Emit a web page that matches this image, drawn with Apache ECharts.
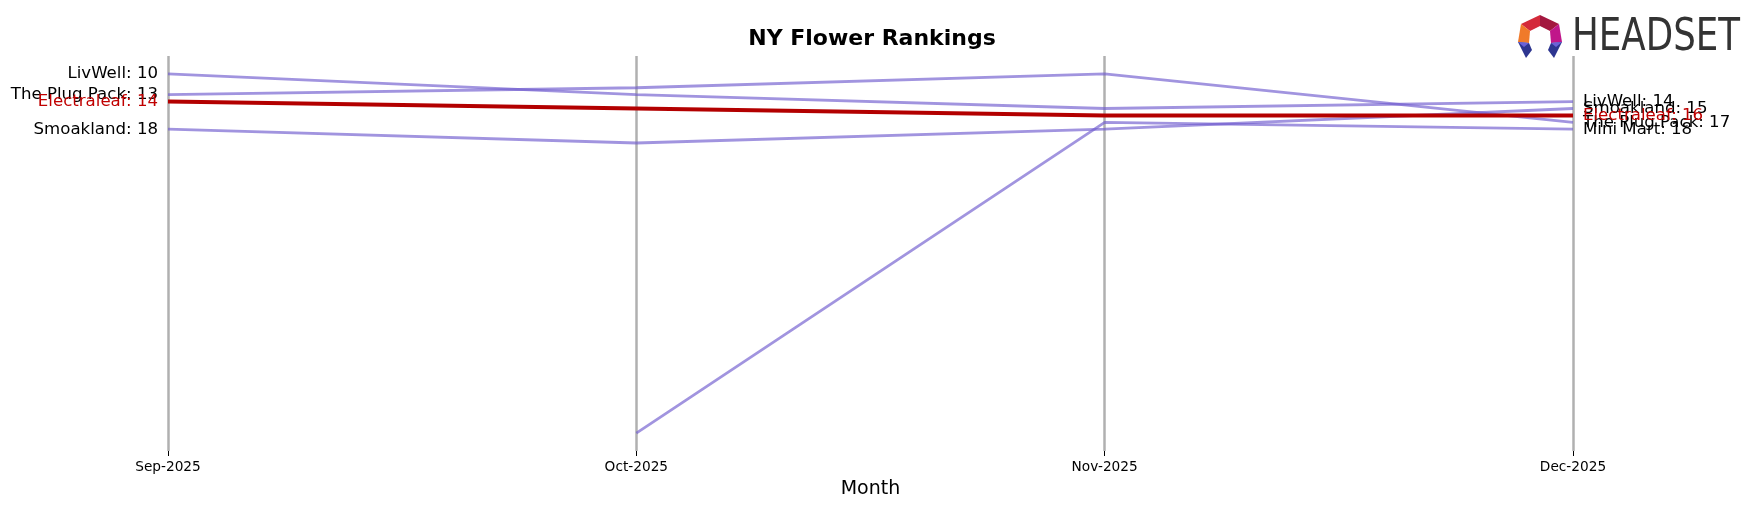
<!DOCTYPE html>
<html>
<head>
<meta charset="utf-8">
<script src="https://cdn.jsdelivr.net/npm/echarts@6/dist/echarts.min.js"></script>
<style>html,body{margin:0;padding:0;background:#fff;}#chart{width:1756px;height:507px;}</style>
</head>
<body>
<div id="chart"></div>
<script>
const months = ['Sep-2025', 'Oct-2025', 'Nov-2025', 'Dec-2025'];
const livwell = [10, 13, 15, 14];
const plugPack = [13, 12, 10, 17];
const electraleaf = [14, 15, 16, 16];
const smoakland = [18, 20, 18, 15];
const miniMart = [null, 62, 17, 18];

const FONT = 'DejaVu Sans';
const PURPLE = 'rgba(112,92,206,0.66)';
const RED = '#b30000';
const LABEL_SIZE = 16.6;

function makeSeries(name, values, color, width, z) {
  let first = values.findIndex(v => v != null);
  let last = values.length - 1;
  while (last >= 0 && values[last] == null) last--;
  const labelColor = color === RED ? '#c00000' : '#000';
  const data = values.map((v, i) => {
    if (v == null) return null;
    const item = { value: v };
    if (i === 0 && first === 0) {
      item.label = { show: true, position: 'left', distance: 10, offset: [0, 1], formatter: name + ': ' + v,
        fontFamily: FONT, fontSize: LABEL_SIZE, color: labelColor };
    } else if (i === last && i === values.length - 1) {
      item.label = { show: true, position: 'right', distance: 10, offset: [0, 1], formatter: name + ': ' + v,
        fontFamily: FONT, fontSize: LABEL_SIZE, color: labelColor };
    }
    return item;
  });
  return {
    name: name,
    type: 'line',
    data: data,
    z: z,
    symbol: 'circle',
    symbolSize: 0.01,
    showSymbol: true,
    connectNulls: false,
    lineStyle: { color: color, width: width },
    itemStyle: { color: 'rgba(0,0,0,0)' },
    label: { show: false, fontFamily: FONT, fontSize: LABEL_SIZE, color: labelColor },
    labelLayout: { hideOverlap: false },
    emphasis: { disabled: true },
    animation: false
  };
}

const chart = echarts.init(document.getElementById('chart'));
chart.setOption({
  backgroundColor: '#fff',
  animation: false,
  title: {
    text: 'NY Flower Rankings',
    left: 867,
    top: 23,
    textAlign: 'center',
    textStyle: { fontFamily: FONT, fontSize: 22, fontWeight: 'bold', color: '#000' }
  },
  grid: { left: 168, right: 183, top: 56, height: 395 },
  xAxis: {
    type: 'category',
    data: months,
    boundaryGap: false,
    name: 'Month',
    nameLocation: 'middle',
    nameGap: 29,
    nameTextStyle: { fontFamily: FONT, fontSize: 19, color: '#000' },
    axisLine: { show: false },
    axisTick: { show: true, length: 5, lineStyle: { color: '#000', width: 1 } },
    axisLabel: { fontFamily: FONT, fontSize: 13.7, color: '#000', margin: 9 },
    splitLine: { show: true, lineStyle: { color: '#b0b0b0', width: 2.5 } }
  },
  yAxis: {
    type: 'value',
    inverse: true,
    min: 7.4,
    max: 64.6,
    show: false,
    splitLine: { show: false }
  },
  series: [
    makeSeries('LivWell', livwell, PURPLE, 2.8, 2),
    makeSeries('The Plug Pack', plugPack, PURPLE, 2.8, 2),
    makeSeries('Smoakland', smoakland, PURPLE, 2.8, 2),
    makeSeries('Mini Mart', miniMart, PURPLE, 2.8, 2),
    makeSeries('Electraleaf', electraleaf, RED, 4, 5)
  ],
  graphic: [
    { type: 'polygon', shape: { points: [[1521,24],[1540,15],[1540,26],[1530,31]] }, style: { fill: '#d42a3a' } },
    { type: 'polygon', shape: { points: [[1540,15],[1559,24],[1550,31],[1540,26]] }, style: { fill: '#a3173f' } },
    { type: 'polygon', shape: { points: [[1521,24],[1530,31],[1529,43],[1518,42]] }, style: { fill: '#f07a2a' } },
    { type: 'polygon', shape: { points: [[1559,24],[1562,42],[1551,43],[1550,31]] }, style: { fill: '#c0168a' } },
    { type: 'polygon', shape: { points: [[1518,42],[1529,43],[1532,50],[1526,58]] }, style: { fill: '#2d3590' } },
    { type: 'polygon', shape: { points: [[1518,42],[1529,43],[1524,47]] }, style: { fill: '#6a62d8' } },
    { type: 'polygon', shape: { points: [[1562,42],[1551,43],[1548,50],[1554,58]] }, style: { fill: '#2d3590' } },
    { type: 'polygon', shape: { points: [[1562,42],[1551,43],[1556,47]] }, style: { fill: '#6a62d8' } },
    {
      type: 'text', x: 1572, y: 39, scaleX: 0.81,
      style: { text: 'HEADSET', fontFamily: FONT, fontSize: 44, fill: '#333333', textAlign: 'left', textVerticalAlign: 'middle' }
    }
  ]
});
</script>
</body>
</html>
